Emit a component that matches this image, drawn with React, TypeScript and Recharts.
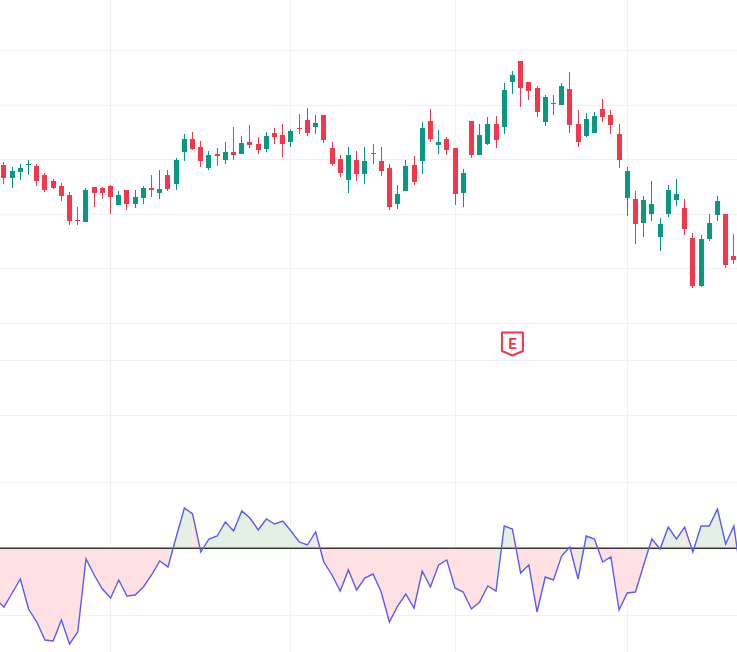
import React from 'react';
import { ComposedChart, Bar, Line, Area, XAxis, YAxis, CartesianGrid, ReferenceDot } from 'recharts';

// body top/bottom and wick ends of each candle
const opens = [
  23.5, 22.2, 22.8, 23.5, 23.4, 22.5, 21.9, 21.4, 20.5, 18.0,
  17.8, 21.3, 21.2, 21.4, 19.5, 21.0, 19.6, 20.2, 21.2, 20.7,
  22.5, 21.6, 24.8, 26.1, 25.3, 23.2, 24.6, 24.0, 24.8, 24.6,
  25.8, 25.6, 25.1, 26.7, 26.5, 25.8, 27.2, 28.0, 27.3, 28.5,
  25.2, 24.1, 22.0, 24.0, 22.6, 24.7, 23.9, 23.2, 19.6, 20.9,
  23.5, 23.9, 27.9, 25.5, 26.1, 25.2, 20.7, 27.9, 24.5, 25.6,
  27.6, 27.3, 31.8, 33.9, 31.8, 31.2, 27.8, 29.7, 29.5, 31.1,
  27.6, 26.4, 26.7, 29.1, 28.5, 26.6, 20.2, 20.1, 17.7, 18.6,
  16.3, 18.6, 20.0, 19.2, 16.2, 11.4, 16.1, 18.5, 18.6, 14.4,
];
const closes = [
  22.2, 22.9, 23.2, 23.6, 21.9, 21.0, 21.2, 20.4, 17.9, 17.9,
  21.0, 20.7, 20.7, 20.3, 20.5, 19.6, 20.3, 21.2, 21.0, 21.1,
  21.1, 24.0, 26.1, 25.1, 23.9, 24.5, 24.4, 24.8, 24.5, 25.7,
  25.5, 25.0, 26.4, 26.3, 25.6, 26.9, 27.1, 26.7, 27.7, 26.0,
  23.6, 22.7, 24.5, 22.6, 23.9, 24.6, 22.9, 19.3, 20.6, 23.4,
  21.8, 27.2, 26.1, 25.8, 25.0, 20.6, 22.7, 24.5, 26.5, 27.6,
  26.0, 31.0, 32.5, 31.2, 30.9, 28.8, 30.3, 29.6, 31.4, 27.5,
  25.8, 28.1, 28.4, 28.3, 27.5, 24.0, 22.9, 17.6, 20.0, 19.6,
  17.6, 21.0, 20.6, 17.1, 11.4, 16.1, 17.7, 19.9, 13.5, 14.0,
];
const highs = [
  23.8, 23.3, 23.6, 24.0, 23.6, 22.7, 22.1, 21.7, 20.8, 19.3,
  21.2, 21.3, 21.3, 21.5, 20.9, 21.0, 21.0, 21.4, 22.5, 23.0,
  23.0, 24.2, 26.6, 26.8, 25.9, 24.9, 25.2, 25.8, 27.3, 26.4,
  27.5, 26.3, 26.8, 27.2, 27.6, 27.1, 28.6, 29.2, 28.5, 28.5,
  25.8, 24.5, 25.3, 24.9, 25.3, 25.6, 25.3, 23.6, 21.5, 24.0,
  24.4, 27.8, 29.1, 27.0, 26.3, 25.2, 23.1, 27.9, 27.6, 28.3,
  28.4, 31.7, 32.9, 33.9, 31.8, 31.4, 30.5, 30.5, 31.7, 32.8,
  29.0, 28.7, 28.8, 30.1, 29.0, 27.6, 23.3, 20.9, 20.4, 21.9,
  18.2, 21.5, 22.1, 20.1, 16.7, 16.5, 18.6, 20.4, 18.6, 16.6,
];
const lows = [
  21.6, 21.2, 22.0, 22.5, 21.4, 20.8, 21.1, 19.9, 17.5, 17.5,
  17.8, 19.3, 20.1, 18.6, 19.5, 19.0, 19.2, 19.6, 20.3, 20.1,
  20.9, 21.0, 23.9, 25.0, 23.3, 23.0, 23.4, 23.6, 24.0, 24.6,
  25.2, 24.6, 24.8, 25.6, 24.3, 25.3, 26.6, 26.4, 26.6, 25.7,
  23.4, 22.3, 20.7, 21.9, 21.6, 23.6, 22.4, 19.0, 19.1, 20.9,
  21.5, 22.6, 25.8, 24.6, 24.5, 19.5, 19.3, 24.2, 24.5, 25.5,
  25.2, 26.6, 30.6, 29.3, 30.0, 28.3, 27.4, 28.5, 29.5, 26.7,
  25.3, 26.3, 26.7, 27.8, 26.6, 23.2, 18.4, 15.6, 16.3, 17.9,
  14.9, 18.3, 19.4, 16.5, 11.2, 11.3, 15.9, 17.9, 13.2, 13.6,
];
// oscillator, with a point on each side of the candles because the line runs off both edges
const oscillator = [
  -5.1,
  -5.9, -4.5, -3.1, -6.1, -7.4, -9.2, -9.3, -7.2, -9.6, -8.4,
  -1.1, -2.7, -4.1, -5.0, -3.2, -4.8, -4.7, -3.9, -2.7, -1.3,
  -1.9, 1.1, 4.0, 3.4, -0.4, 0.9, 1.2, 2.6, 1.7, 3.7,
  3.0, 1.8, 2.9, 2.4, 2.7, 1.7, 0.6, 0.3, 1.6, -1.4,
  -2.7, -4.3, -2.2, -4.2, -3.0, -2.6, -4.4, -7.4, -5.8, -4.6,
  -6.0, -2.3, -3.9, -1.7, -1.2, -4.0, -4.4, -6.1, -5.4, -3.8,
  -4.3, 2.2, 1.9, -2.5, -1.7, -6.4, -2.9, -3.2, -0.8, 0.1,
  -3.1, 1.2, 0.9, -1.4, -0.9, -6.2, -4.5, -4.4, -1.7, 0.9,
  -0.1, 2.1, 0.9, 2.1, -0.4, 2.2, 2.2, 3.9, 0.4, 2.2,
  -3.5,
];

const priceGrid = [34.95, 29.45, 24.05, 18.55, 13.15, 7.65];
const oscGrid = [18.75, 13.25, 6.55, -6.75];
const timeGrid = [13, 35, 55, 76];
const earningsAt = 62;
const priceDomain = [4, 40];
const oscDomain = [-10.4, 18.8];

const UP = '#089981';
const DOWN = '#f6364a';
const GRID = '#f1f1f3';
const MARGIN = { top: 0, right: 0, bottom: 0, left: -8.34 };
const CHART_WIDTH = 746.16;
const BAND = (CHART_WIDTH - MARGIN.left) / oscillator.length;

// i counts candles, so the leading oscillator point is i = -1
const candles = oscillator.map((_, n) => {
  const i = n - 1;
  return {
    i,
    open: opens[i],
    close: closes[i],
    range: i >= 0 && i < opens.length ? [lows[i], highs[i]] : null,
  };
});

// each stretch between two points takes its colour from the point it ends on
const runs: { key: string; color: string }[] = [];
const oscData: any[] = oscillator.map((v, n) => ({ i: n - 1, v }));
for (let n = 1; n < oscillator.length; n++) {
  const color = oscillator[n] >= 0 ? '#e5f0e4' : '#ffe1e3';
  let run = runs[runs.length - 1];
  if (!run || run.color !== color) {
    run = { key: `fill${runs.length}`, color };
    runs.push(run);
    oscData[n - 1][run.key] = oscillator[n - 1];
  }
  oscData[n][run.key] = oscillator[n];
}
// zero level, only needs its two ends
[oscData[0], oscData[oscData.length - 1]].forEach((d) => {
  d.levelHi = 0.05;
  d.levelLo = -0.05;
});

const Candle = (props: any) => {
  const { x, y, height, payload } = props;
  if (payload.range == null) return null;
  const [low, high] = payload.range;
  const pxPerUnit = height / (high - low);
  const top = y + (high - Math.max(payload.open, payload.close)) * pxPerUnit;
  const bottom = y + (high - Math.min(payload.open, payload.close)) * pxPerUnit;
  // the bar fills its band, but recharts truncates its width, so take the middle from BAND
  const cx = Math.floor(x + BAND / 2);
  const color = payload.close >= payload.open ? UP : DOWN;
  return (
    <g fill={color}>
      <rect x={cx} y={Math.round(y)} width={1} height={Math.round(height)} />
      <rect x={cx - 2} y={Math.round(top)} width={5} height={Math.max(1, Math.round(bottom - top))} />
    </g>
  );
};

// grid generators only get the plot box, so the band and level maths is done here
const timeLines = ({ offset }: any) => {
  const band = offset.width / oscillator.length;
  return timeGrid.map((t) => Math.floor(offset.left + band * (t + 1.5)) + 0.5);
};

const levelLines = (values: number[], [min, max]: number[]) => ({ offset }: any) =>
  values.map((v) => offset.top + ((max - v) / (max - min)) * offset.height);

const EarningsMark = (props: any) => {
  const { cx, cy } = props;
  return (
    <g>
      <path
        d={`M${cx - 10.5} ${cy - 10.5} H${cx + 10.5} V${cy + 8} L${cx} ${cy + 12.5} L${cx - 10.5} ${cy + 8} Z`}
        fill="#ffffff"
        stroke={DOWN}
        strokeWidth={2}
        strokeLinejoin="round"
      />
      <text
        x={cx}
        y={cy + 6}
        textAnchor="middle"
        fontFamily="Roboto, sans-serif"
        fontWeight={700}
        fontSize={15}
        fill={DOWN}
      >
        E
      </text>
    </g>
  );
};

const App = () => {
  return (
    <div style={{ position: 'absolute', left: 0, top: 0, width: 737, height: 652, overflow: 'hidden', background: '#fff' }}>
      <div style={{ position: 'absolute', left: 0, top: 0 }}>
        <ComposedChart width={CHART_WIDTH} height={360} data={candles} margin={MARGIN} barCategoryGap={0}>
          <CartesianGrid
            stroke={GRID}
            verticalCoordinatesGenerator={timeLines}
            horizontalCoordinatesGenerator={levelLines(priceGrid, priceDomain)}
          />
          <XAxis dataKey="i" hide interval={0} scale="band" />
          <YAxis hide domain={priceDomain} allowDataOverflow />
          <Bar dataKey="range" shape={Candle} isAnimationActive={false} />
          <ReferenceDot x={earningsAt} y={5.7} r={10} shape={EarningsMark} />
        </ComposedChart>
      </div>
      <div style={{ position: 'absolute', left: 0, top: 360 }}>
        <ComposedChart width={CHART_WIDTH} height={292} data={oscData} margin={MARGIN}>
          <CartesianGrid
            stroke={GRID}
            verticalCoordinatesGenerator={timeLines}
            horizontalCoordinatesGenerator={levelLines(oscGrid, oscDomain)}
          />
          <XAxis dataKey="i" hide interval={0} scale="band" />
          <YAxis hide domain={oscDomain} allowDataOverflow />
          {runs.map((r) => (
            <Area
              key={r.key}
              dataKey={r.key}
              baseValue={0}
              type="linear"
              stroke="none"
              fill={r.color}
              fillOpacity={1}
              dot={false}
              activeDot={false}
              isAnimationActive={false}
            />
          ))}
          <Line dataKey="levelHi" type="linear" connectNulls stroke="#9a9a9a" strokeWidth={1} dot={false} activeDot={false} isAnimationActive={false} />
          <Line dataKey="levelLo" type="linear" connectNulls stroke="#333333" strokeWidth={1} dot={false} activeDot={false} isAnimationActive={false} />
          <Line dataKey="v" type="linear" stroke="#5b5cf6" strokeWidth={1.4} dot={false} activeDot={false} isAnimationActive={false} />
        </ComposedChart>
      </div>
    </div>
  );
};

export default App;
